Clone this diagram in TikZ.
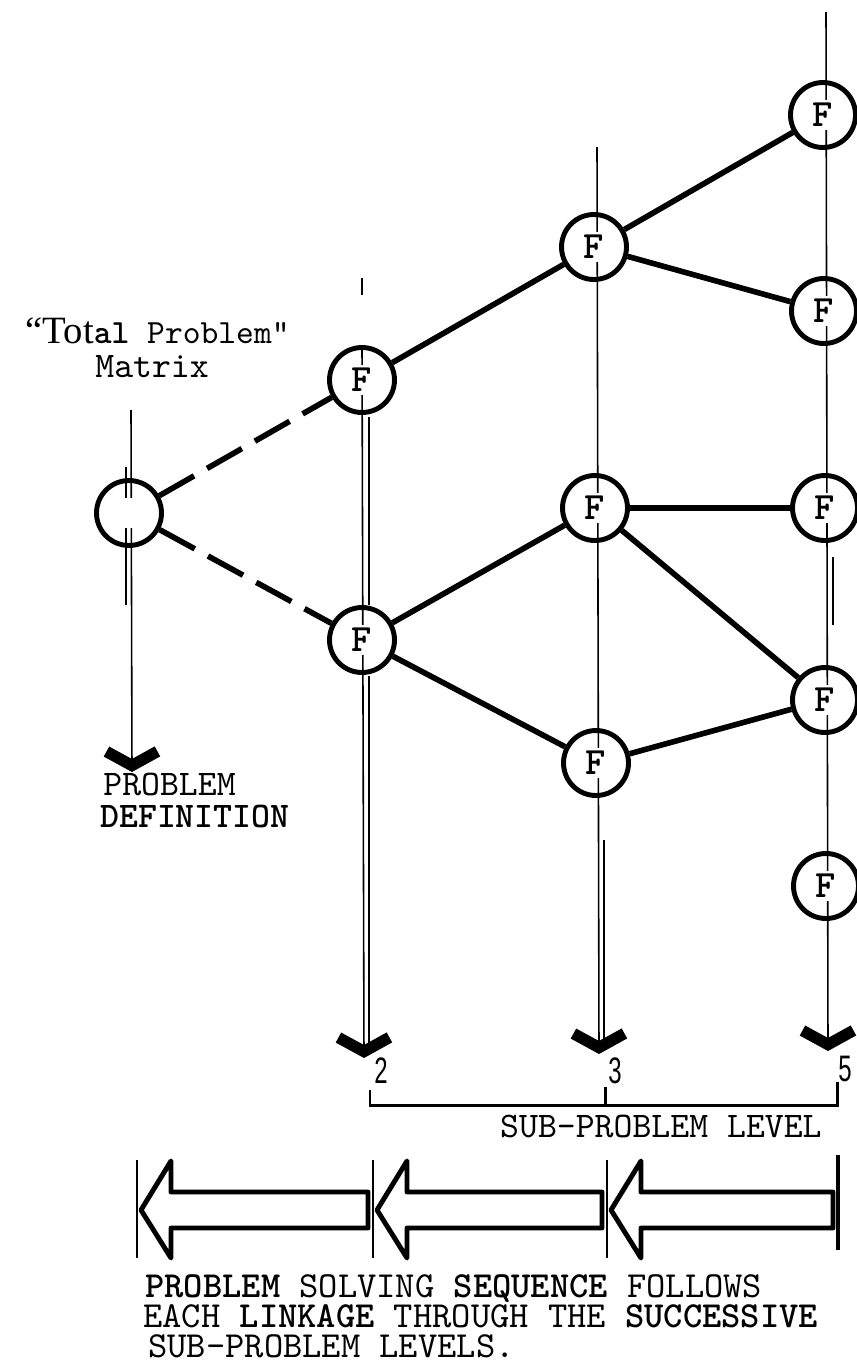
\documentclass[tikz,border=0pt]{standalone}
\usepackage{fontspec}
\usepackage{graphicx}
\setmainfont{Liberation Serif}
\setmonofont{lmmono10-regular.otf}[BoldFont=lmmonolt10-bold.otf]
\setsansfont{Liberation Sans}
\usetikzlibrary{arrows.meta}
\pgfdeclarelayer{background}
\pgfsetlayers{background,main}
\tikzset{
  fnode/.style={circle, draw, line width=2.8pt, minimum size=1.3cm, inner sep=0pt,
    label={[fill=white, inner sep=0pt, minimum height=0.6cm, minimum width=0.4cm,
      font=\ttfamily\bfseries\fontsize{22}{22}\selectfont]center:#1}},
  fnode/.default=F,
  link/.style={line width=3.2pt},
  dashlink/.style={link, dash pattern=on 0.8cm off 0.3cm},
  level/.style={line width=0.9pt, -{Straight Barb[length=0.28cm, width=1.02cm, line width=6.5pt]}},
  rule/.style={line width=0.9pt},
  bracket/.style={line width=1.7pt},
  block/.style={line width=2.8pt, line join=round},
  sepline/.style={line width=1.2pt},
  tw/.style={font=\ttfamily\fontsize{20.5}{20.5}\selectfont, inner sep=0pt},
  caps/.style={text height=0.42cm, text depth=0.02cm},
  tw2/.style={font=\ttfamily\fontsize{20.9}{20.9}\selectfont, inner sep=0pt, caps},
  digit/.style={font=\sffamily\fontsize{21}{21}\selectfont, inner sep=0pt},
}
\begin{document}
\begin{tikzpicture}[x=0.02cm, y=-0.02cm]
  \clip (0,0) rectangle (857,1369);
  % the matrix and its sub-problems
  \node[fnode=\phantom{F}] (root) at (129,513) {};
  \node[fnode] (F2a) at (362,380) {};
  \node[fnode] (F2b) at (362,640) {};
  \node[fnode] (F3a) at (594,247) {};
  \node[fnode] (F3b) at (595,508) {};
  \node[fnode] (F3c) at (596,763) {};
  \node[fnode] (F5a) at (823,115) {};
  \node[fnode] (F5b) at (824,311) {};
  \node[fnode] (F5c) at (825,508) {};
  \node[fnode] (F5d) at (825,700) {};
  \node[fnode] (F5e) at (826,886) {};
  \draw[dashlink] (root) -- (F2a);
  \draw[dashlink] (root) -- (F2b);
  \draw[link] (F2a) -- (F3a);
  \draw[link] (F2b) -- (F3b);
  \draw[link] (F2b) -- (F3c);
  \draw[link] (F3a) -- (F5a);
  \draw[link] (F3a) -- (F5b);
  \draw[link] (F3b) -- (F5c);
  \draw[link] (F3b) -- (F5d);
  \draw[link] (F3c) -- (F5d);
  % level lines
  \coordinate (top1) at (131,410);
  \coordinate (end1) at (132,772);
  \coordinate (end2) at (364,1058);
  \coordinate (top3) at (597,147);
  \coordinate (end3) at (599,1054);
  \coordinate (top5) at (826,12);
  \coordinate (end5) at (828,1051);
  \begin{pgfonlayer}{background}
    \draw[level] (top1) -- (end1);
    \draw[level] (F2a.north) -- (end2);
    \draw[level] (top3) -- (end3);
    \draw[level] (top5) -- (end5);
    \draw[rule] (126,467) -- (126,605);
    \draw[rule] (369,417) -- (369,605);
    \draw[rule] (369,676) -- (369,1044);
    \draw[rule] (604,840) -- (604,1040);
    \draw[rule, line width=1.6pt] (833,557) -- (833,625);
    \draw[rule] (362,278) -- (362,295);
  \end{pgfonlayer}
  \node[tw, anchor=base east, font=\ttfamily\fontsize{19.3}{19.3}\selectfont] (title) at (290,343)
    {{\rmfamily\fontsize{22}{22}\selectfont “Tot}{\bfseries al} Problem"};
  \node[tw, anchor=base west] (matrix) at (95,377) {Matrix};
  \node[tw, caps, anchor=base west] (pdef1) at (103,795) {PROBLEM};
  \node[tw, caps, anchor=base west] (pdef2) at (100,827) {\bfseries DEFINITION};
  % sub-problem levels
  \node[digit] (lev2) at (381,1071) {\scalebox{0.65}[1]{2}};
  \node[digit] (lev3) at (615,1071) {\scalebox{0.65}[1]{3}};
  \node[digit] (lev5) at (845,1069) {\scalebox{0.65}[1]{5}};
  \draw[bracket] (370,1090) -- (370,1105) -- (837,1105) -- (837,1082);
  \draw[bracket] (605,1087) -- (605,1105);
  \node[tw, caps, anchor=base east] (sublevel) at (822,1137) {SUB-PROBLEM LEVEL};
  % solving sequence
  \foreach \a/\b in {137/373, 373/607, 607/838}
    \draw[block] (\a+4,1210) -- (\a+34,1161) -- (\a+34,1192) -- (\b-5,1192)
      -- (\b-5,1228) -- (\a+34,1228) -- (\a+34,1258) -- cycle;
  \foreach \s in {137,373,607}
    \draw[sepline] (\s,1160) -- (\s,1258);
  \draw[sepline, line width=2pt] (838,1155) -- (838,1250);
  \node[tw2, anchor=base west] (seq1) at (145,1297) {\bfseries PROBLEM\mdseries{} SOLVING \bfseries SEQUENCE\mdseries{} FOLLOWS};
  \node[tw2, anchor=base west] (seq2) at (143,1327) {EACH \textbf{LINKAGE} THROUGH THE \textbf{SUCCESSIVE}};
  \node[tw2, anchor=base west] (seq3) at (148,1357) {SUB-PROBLEM LEVELS.};
\end{tikzpicture}
\end{document}
